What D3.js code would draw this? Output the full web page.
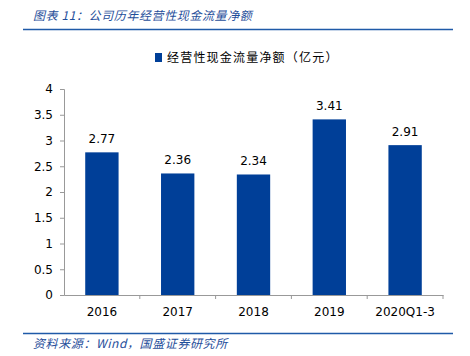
<!DOCTYPE html>
<html><head><meta charset="utf-8">
<script src="https://cdn.jsdelivr.net/npm/d3@7"></script>
<style>body{margin:0;background:#fff}</style>
</head><body><svg id="c" width="470" height="356"></svg>
<script>
const categories = ["2016","2017","2018","2019","2020Q1-3"];
const values = [2.77, 2.36, 2.34, 3.41, 2.91];
const yTicks = [0,0.5,1,1.5,2,2.5,3,3.5,4];
const title = "图表 11：公司历年经营性现金流量净额";
const legendLabel = "经营性现金流量净额（亿元）";
const source = "资料来源：Wind，国盛证券研究所";

const svg = d3.select("#c");
const blue = "#003f98";
const txtBlue = "#1f4e9a";
const font = "'DejaVu Sans', Verdana, sans-serif";
const cjk = "'Noto Sans CJK SC', sans-serif";

svg.append("text").attr("x",33).attr("y",20).attr("fill",txtBlue)
  .attr("font-family",cjk).attr("font-size",12).attr("font-style","italic").attr("letter-spacing",0.6)
  .text(title);
svg.append("line").attr("x1",23).attr("x2",453).attr("y1",29.5).attr("y2",29.5).attr("stroke","#1f5aa8").attr("stroke-width",1.5);

const x = d3.scaleBand().domain(categories).range([64,443]).paddingInner(0.56).paddingOuter(0.28);
const y = d3.scaleLinear().domain([0,4]).range([295,89]);

// legend
svg.append("rect").attr("x",155).attr("y",53).attr("width",7).attr("height",9).attr("fill",blue);
svg.append("text").attr("x",167).attr("y",62).attr("font-family",cjk).attr("font-size",12).attr("letter-spacing",1.2).attr("fill","#000").text(legendLabel);

// y axis
const ya = svg.append("g").attr("transform","translate(64,0)")
  .call(d3.axisLeft(y).tickValues(yTicks).tickSize(4).tickPadding(7).tickFormat(d3.format("")));
ya.select(".domain").attr("stroke","#999");
ya.selectAll(".tick line").attr("stroke","#999");
ya.selectAll("text").attr("font-family",font).attr("font-size",12).attr("fill","#000");

// bars
svg.selectAll("rect.bar").data(values).enter().append("rect").attr("class","bar")
  .attr("x",(d,i)=>x(categories[i])).attr("width",x.bandwidth())
  .attr("y",d=>y(d)).attr("height",d=>y(0)-y(d)).attr("fill",blue);

svg.selectAll("text.lab").data(values).enter().append("text").attr("class","lab")
  .attr("x",(d,i)=>x(categories[i])+x.bandwidth()/2).attr("y",d=>y(d)-9)
  .attr("text-anchor","middle").attr("font-family",font).attr("font-size",12).attr("fill","#000")
  .text(d=>d.toFixed(2));

// x axis
const xa = svg.append("g").attr("transform","translate(0,295)")
  .call(d3.axisBottom(x).tickSize(0).tickPadding(12).tickSizeOuter(0));
xa.select(".domain").attr("stroke","#999");
xa.selectAll("text").attr("font-family",font).attr("font-size",12).attr("fill","#000");
const step = x.step();
svg.append("g").selectAll("line").data(categories).enter().append("line")
  .attr("x1",(d,i)=>64+step*(i+1)).attr("x2",(d,i)=>64+step*(i+1))
  .attr("y1",295).attr("y2",299).attr("stroke","#999");

svg.append("line").attr("x1",23).attr("x2",453).attr("y1",333.5).attr("y2",333.5).attr("stroke","#1f5aa8").attr("stroke-width",1.5);
svg.append("text").attr("x",33).attr("y",348).attr("fill",txtBlue)
  .attr("font-family",cjk).attr("font-size",12).attr("font-style","italic").attr("letter-spacing",0.6).text(source);
</script></body></html>
